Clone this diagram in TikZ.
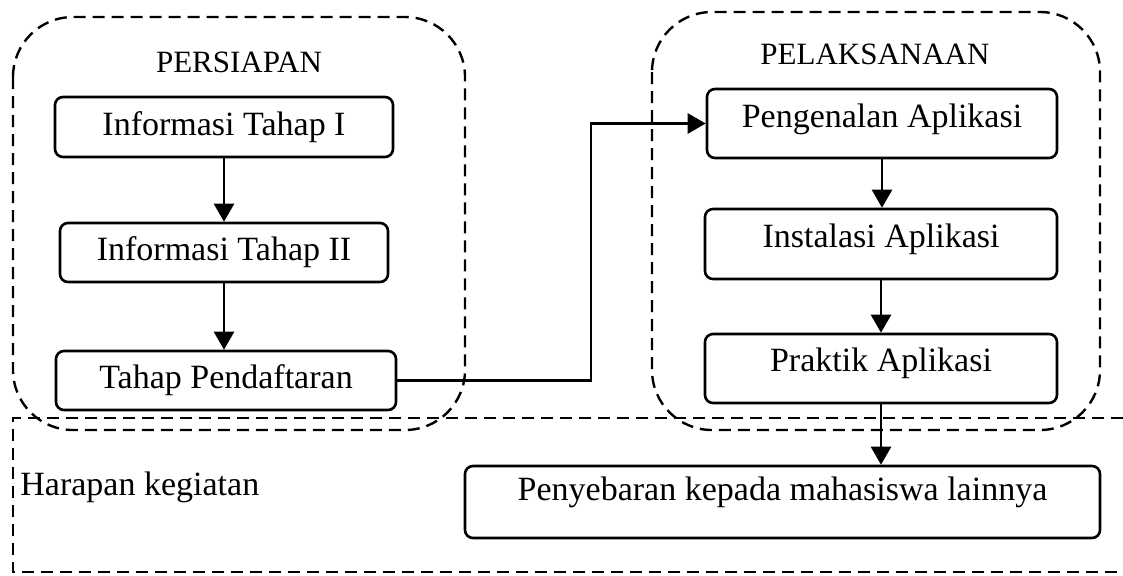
\documentclass[tikz,border=0pt]{standalone}
\usepackage{fontspec}
\setmainfont{Liberation Serif}
\usetikzlibrary{arrows.meta,calc}

\tikzset{
  kotak/.style={draw, line width=1.3pt, rounded corners=4pt, inner sep=0pt,
    font=\fontsize{17}{20}\selectfont},
  naik/.style={text height=11.5pt, text depth=#1},
  wadah/.style={draw, line width=1.2pt, dash pattern=on 6pt off 3.5pt},
  judul/.style={font=\fontsize{15.5}{18}\selectfont},
  panah/.style={line width=1.3pt, -{Triangle[length=9pt,width=10pt]}}
}

\begin{document}
\begin{tikzpicture}[x=0.5pt,y=-0.5pt]
\useasboundingbox (0,0) rectangle (1123,575);

% kelompok
\draw[wadah, rounded corners=30pt] (13,17) rectangle (465,430);
\draw[wadah, rounded corners=30pt] (652,12) rectangle (1100,430);
\draw[wadah] (1123,418) -- (13,418) -- (13,572) -- (1123,572);

\node[judul] (persiapan) at (239,62) {PERSIAPAN};
\node[judul] (pelaksanaan) at (875,54) {PELAKSANAAN};
\node[font=\fontsize{17}{20}\selectfont, anchor=west, inner sep=0pt] (harapan) at (20,487) {Harapan kegiatan};

% tahap
\node[kotak, minimum width=169pt, minimum height=30pt] (info1) at (224,127) {Informasi Tahap I};
\node[kotak, minimum width=164pt, minimum height=29.5pt] (info2) at (224,252.5) {Informasi Tahap II};
\node[kotak, minimum width=170pt, minimum height=29.5pt] (daftar) at (226,380.5) {Tahap Pendaftaran};
\node[kotak, naik=8pt, minimum width=175pt, minimum height=34.5pt] (kenal) at (882,123.5) {Pengenalan Aplikasi};
\node[kotak, naik=8.5pt, minimum width=176pt, minimum height=35pt] (instal) at (881,244) {Instalasi Aplikasi};
\node[kotak, naik=8.2pt, minimum width=176pt, minimum height=34.5pt] (praktik) at (881,368.5) {Praktik Aplikasi};
\node[kotak, naik=12.7pt, minimum width=317.5pt, minimum height=36pt] (sebar) at (782.5,502) {Penyebaran kepada mahasiswa lainnya};

\coordinate (belok) at (591,0);

\draw[panah] (info1) -- (info1 |- info2.north);
\draw[panah] (info2) -- (info2 |- daftar.north);
\draw[panah] (daftar.east) -- (daftar.east -| belok) |- (kenal.west);
\draw[panah] (kenal) -- (kenal |- instal.north);
\draw[panah] (instal) -- (instal |- praktik.north);
\draw[panah] (praktik) -- (praktik.south |- sebar.north);
\end{tikzpicture}
\end{document}
